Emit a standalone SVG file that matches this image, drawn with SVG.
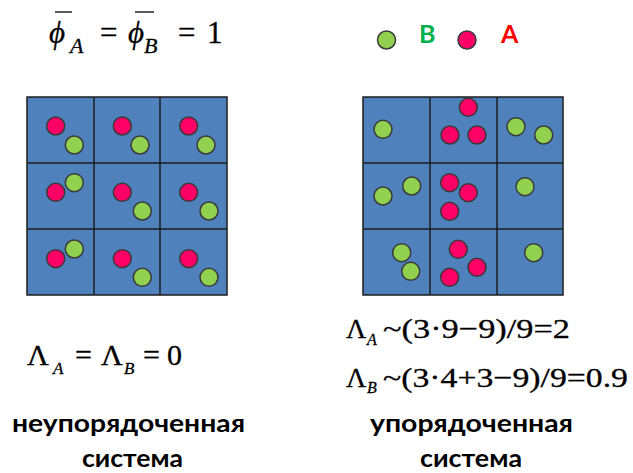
<svg xmlns="http://www.w3.org/2000/svg" width="633" height="473" viewBox="0 0 633 473">
<style>
.cell{fill:#4F81BD;stroke:#1c1c1c;stroke-width:1.5}
.gl{stroke:#1c1c1c;stroke-width:1.5}
.r{fill:#FF0066;stroke:#3a3a3a;stroke-width:1.5}
.g{fill:#92D050;stroke:#3a3a3a;stroke-width:1.5}
.m{font-family:"Liberation Serif","Times New Roman",serif;fill:#000;stroke:#000;stroke-width:0.3}
.i{font-style:italic}
.lbl{font-family:Lato,"Open Sans",sans-serif;font-weight:bold;fill:#000;font-size:25px}
.bar{stroke:#000;stroke-width:1.3}
</style>
<rect width="633" height="473" fill="#fff"/>
<g id="eq-top">
<text class="m i" x="49" y="43" font-size="31">ϕ</text>
<line class="bar" x1="55" y1="12" x2="72" y2="12"/>
<text class="m i" x="70" y="53" font-size="22">A</text>
<text class="m" x="100" y="43" font-size="31">=</text>
<text class="m i" x="128" y="43" font-size="31">ϕ</text>
<line class="bar" x1="135" y1="12" x2="154" y2="12"/>
<text class="m i" x="144" y="53" font-size="22">B</text>
<text class="m" x="178" y="43" font-size="31">=</text>
<text class="m" x="207" y="43" font-size="31">1</text>
</g>
<g id="legend">
<circle class="g" cx="386.5" cy="40" r="9"/>
<text x="419" y="43" font-family="Lato,'Open Sans',sans-serif" font-weight="bold" font-size="25" fill="#00B050">B</text>
<circle class="r" cx="467" cy="40" r="9"/>
<text x="501" y="43" font-family="Lato,'Open Sans',sans-serif" font-weight="bold" font-size="25" fill="#FF0000">A</text>
</g>
<g id="grid-left">
<rect class="cell" x="27" y="97" width="200" height="198"/>
<line class="gl" x1="94" y1="97" x2="94" y2="295"/>
<line class="gl" x1="160" y1="97" x2="160" y2="295"/>
<line class="gl" x1="27" y1="163" x2="227" y2="163"/>
<line class="gl" x1="27" y1="229" x2="227" y2="229"/>
<circle class="r" cx="55.7" cy="126" r="9"/><circle class="g" cx="74.3" cy="145" r="9"/>
<circle class="r" cx="122.3" cy="126" r="9"/><circle class="g" cx="140" cy="145" r="9"/>
<circle class="r" cx="188.7" cy="126" r="9"/><circle class="g" cx="206" cy="145" r="9"/>
<circle class="r" cx="55.7" cy="192.3" r="9"/><circle class="g" cx="74.3" cy="182.7" r="9"/>
<circle class="r" cx="122.3" cy="192.3" r="9"/><circle class="g" cx="142.3" cy="211" r="9"/>
<circle class="r" cx="188.7" cy="192.3" r="9"/><circle class="g" cx="209" cy="211" r="9"/>
<circle class="r" cx="55.7" cy="258.7" r="9"/><circle class="g" cx="74.3" cy="249" r="9"/>
<circle class="r" cx="122.3" cy="258.7" r="9"/><circle class="g" cx="142.3" cy="277.3" r="9"/>
<circle class="r" cx="188.7" cy="258.7" r="9"/><circle class="g" cx="209" cy="277.3" r="9"/>
</g>
<g id="grid-right">
<rect class="cell" x="363" y="97" width="200" height="198"/>
<line class="gl" x1="430" y1="97" x2="430" y2="295"/>
<line class="gl" x1="497" y1="97" x2="497" y2="295"/>
<line class="gl" x1="363" y1="163" x2="563" y2="163"/>
<line class="gl" x1="363" y1="229" x2="563" y2="229"/>
<circle class="g" cx="383" cy="129.3" r="9"/>
<circle class="r" cx="468.3" cy="107.3" r="9"/><circle class="r" cx="450" cy="135" r="9"/><circle class="r" cx="477" cy="135" r="9"/>
<circle class="g" cx="516" cy="126.7" r="9"/><circle class="g" cx="543.7" cy="135" r="9"/>
<circle class="g" cx="383" cy="196" r="9"/><circle class="g" cx="411.7" cy="186" r="9"/>
<circle class="r" cx="449.7" cy="182.7" r="9"/><circle class="r" cx="468.3" cy="192.7" r="9"/><circle class="r" cx="449.7" cy="211.3" r="9"/>
<circle class="g" cx="525" cy="186.7" r="9"/>
<circle class="g" cx="401.7" cy="252.7" r="9"/><circle class="g" cx="410.7" cy="271.3" r="9"/>
<circle class="r" cx="458.3" cy="249.3" r="9"/><circle class="r" cx="477" cy="267.3" r="9"/><circle class="r" cx="449.7" cy="277.3" r="9"/>
<circle class="g" cx="533.7" cy="252.7" r="9"/>
</g>
<g id="eq-left">
<text class="m" x="27" y="365" font-size="30">Λ</text>
<text class="m i" x="53" y="374" font-size="17">A</text>
<text class="m" x="75" y="365" font-size="30">=</text>
<text class="m" x="101" y="365" font-size="30">Λ</text>
<text class="m i" x="124" y="374" font-size="17">B</text>
<text class="m" x="143" y="365" font-size="30">=</text>
<text class="m" x="167" y="365" font-size="30">0</text>
</g>
<g id="eq-right">
<text class="m" x="346" y="338" font-size="28">Λ</text>
<text class="m i" x="367" y="345" font-size="16">A</text>
<text class="m" x="383" y="338" font-size="28" textLength="187" lengthAdjust="spacingAndGlyphs">~(3·9−9)/9=2</text>
<text class="m" x="346" y="387" font-size="28">Λ</text>
<text class="m i" x="367" y="393" font-size="16">B</text>
<text class="m" x="383" y="387" font-size="28" textLength="245" lengthAdjust="spacingAndGlyphs">~(3·4+3−9)/9=0.9</text>
</g>
<g id="label-left">
<text class="lbl" x="12" y="432" textLength="233" lengthAdjust="spacingAndGlyphs">неупорядоченная</text>
<text class="lbl" x="82" y="467" textLength="101" lengthAdjust="spacingAndGlyphs">система</text>
</g>
<g id="label-right">
<text class="lbl" x="370" y="432" textLength="203" lengthAdjust="spacingAndGlyphs">упорядоченная</text>
<text class="lbl" x="420" y="467" textLength="102" lengthAdjust="spacingAndGlyphs">система</text>
</g>
</svg>
